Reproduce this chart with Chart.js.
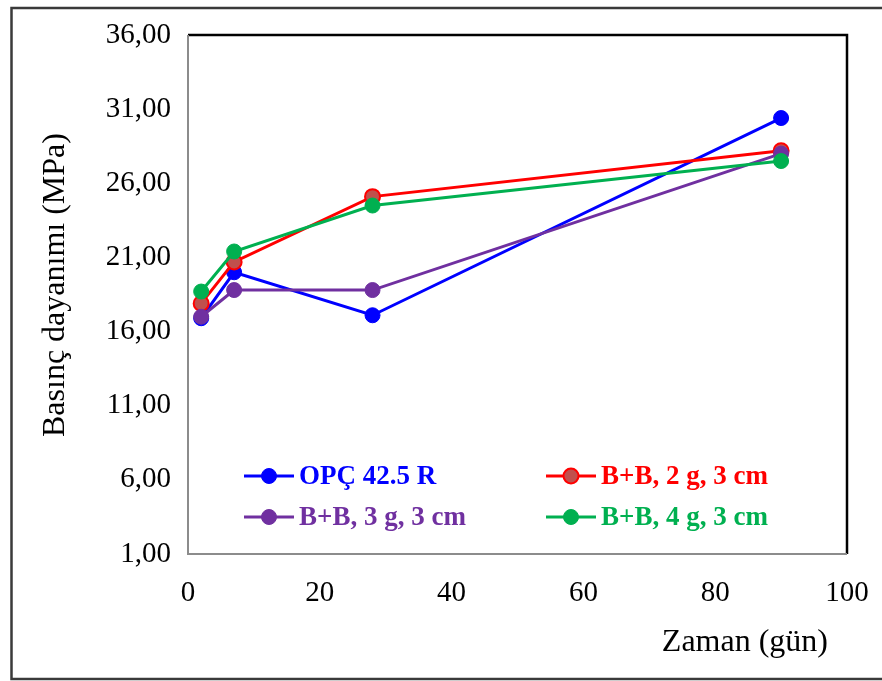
<!DOCTYPE html>
<html>
<head>
<meta charset="utf-8">
<script src="https://cdn.jsdelivr.net/npm/chart.js@4"></script>
<style>
  html, body { margin: 0; padding: 0; background: #fff; }
  #wrap { width: 882px; height: 681px; position: relative; }
</style>
</head>
<body>
<div id="wrap"><canvas id="c" width="882" height="681"></canvas></div>
<script>
// Curing time (days) and compressive strength (MPa) per mix
const days = [2, 7, 28, 90];
const opc = [16.9, 20.0, 17.1, 30.4];
const bb2g = [17.9, 20.7, 25.1, 28.2];
const bb3g = [17.0, 18.8, 18.8, 28.0];
const bb4g = [18.7, 21.4, 24.5, 27.5];

const seriesNames = ['OPÇ 42.5 R', 'B+B, 2 g, 3 cm', 'B+B, 3 g, 3 cm', 'B+B, 4 g, 3 cm'];
const yTicks = [1, 6, 11, 16, 21, 26, 31, 36];
const xTicks = [0, 20, 40, 60, 80, 100];
const xTitle = 'Zaman (gün)';
const yTitle = 'Basınç dayanımı (MPa)';

const SERIF = '"Liberation Serif", "Times New Roman", serif';

function pts(vals) { return days.map((d, i) => ({ x: d, y: vals[i] })); }

const styles = [
  { line: '#0000FF', fill: '#0000FF', text: '#0000FF' },
  { line: '#FF0000', fill: '#C0504D', text: '#FF0000' },
  { line: '#7030A0', fill: '#7030A0', text: '#7030A0' },
  { line: '#00B050', fill: '#00B050', text: '#00B050' }
];
const values = [opc, bb2g, bb3g, bb4g];

const datasets = values.map((v, i) => ({
  label: seriesNames[i],
  data: pts(v),
  borderColor: styles[i].line,
  backgroundColor: styles[i].fill,
  pointBackgroundColor: styles[i].fill,
  pointBorderColor: styles[i].line,
  pointBorderWidth: i === 1 ? 2 : 1,
  pointRadius: 7.5,
  pointHoverRadius: 7.5,
  borderWidth: 3,
  tension: 0,
  order: 3 - i
}));

// Frame, plot-area edges, axis titles and the in-plot legend
const decor = {
  id: 'decor',
  beforeDraw(chart) {
    const ctx = chart.ctx;
    ctx.save();
    ctx.fillStyle = '#fff';
    ctx.fillRect(0, 0, chart.width, chart.height);
    ctx.strokeStyle = '#3a3a3a';
    ctx.lineWidth = 2.5;
    ctx.strokeRect(11.5, 8, 900, 671);
    ctx.restore();
  },
  afterDatasetsDraw(chart) {
    const ctx = chart.ctx;
    const a = chart.chartArea;
    ctx.save();
    // top and right edges
    ctx.strokeStyle = '#000';
    ctx.lineWidth = 2.5;
    ctx.beginPath();
    ctx.moveTo(a.left, a.top);
    ctx.lineTo(a.right, a.top);
    ctx.lineTo(a.right, a.bottom);
    ctx.stroke();
    // left and bottom edges
    ctx.strokeStyle = '#8c8c8c';
    ctx.lineWidth = 2;
    ctx.beginPath();
    ctx.moveTo(a.left, a.top);
    ctx.lineTo(a.left, a.bottom);
    ctx.lineTo(a.right, a.bottom);
    ctx.stroke();

    // axis titles
    ctx.fillStyle = '#000';
    ctx.font = '32px ' + SERIF;
    ctx.textAlign = 'right';
    ctx.textBaseline = 'middle';
    ctx.fillText(xTitle, 828, 643);
    ctx.translate(56, 285);
    ctx.rotate(-Math.PI / 2);
    ctx.textAlign = 'center';
    ctx.fillText(yTitle, 0, 0);
    ctx.restore();

    // legend
    const slots = [
      { x: 244, y: 476 }, { x: 546, y: 476 },
      { x: 244, y: 517 }, { x: 546, y: 517 }
    ];
    ctx.save();
    ctx.font = 'bold 27px ' + SERIF;
    ctx.textBaseline = 'middle';
    ctx.textAlign = 'left';
    chart.data.datasets.forEach((ds, i) => {
      const s = slots[i];
      ctx.strokeStyle = styles[i].line;
      ctx.lineWidth = 3;
      ctx.beginPath();
      ctx.moveTo(s.x, s.y);
      ctx.lineTo(s.x + 50, s.y);
      ctx.stroke();
      ctx.beginPath();
      ctx.arc(s.x + 25, s.y, 7.5, 0, Math.PI * 2);
      ctx.fillStyle = styles[i].fill;
      ctx.fill();
      ctx.lineWidth = i === 1 ? 2 : 1;
      ctx.stroke();
      ctx.fillStyle = styles[i].text;
      ctx.fillText(ds.label, s.x + 55, s.y + 1);
    });
    ctx.restore();
  }
};

new Chart(document.getElementById('c'), {
  type: 'line',
  data: { datasets },
  options: {
    responsive: false,
    animation: false,
    devicePixelRatio: 1,
    layout: { padding: { top: 35, right: 35, left: 0, bottom: 0 } },
    plugins: { legend: { display: false }, tooltip: { enabled: false } },
    scales: {
      x: {
        type: 'linear',
        min: 0, max: 100,
        grid: { display: false },
        border: { display: false },
        afterBuildTicks(s) { s.ticks = xTicks.map(v => ({ value: v })); },
        afterFit(s) { s.height = 127; s.paddingLeft = 0; s.paddingRight = 0; },
        ticks: {
          color: '#000',
          font: { family: SERIF, size: 29 },
          padding: 14,
          maxRotation: 0,
          callback: v => String(v)
        }
      },
      y: {
        type: 'linear',
        min: 1, max: 36,
        grid: { display: false },
        border: { display: false },
        afterBuildTicks(s) { s.ticks = yTicks.map(v => ({ value: v })); },
        afterFit(s) { s.width = 188; s.paddingTop = 0; s.paddingBottom = 0; },
        ticks: {
          color: '#000',
          font: { family: SERIF, size: 29 },
          padding: 9,
          callback: v => Number(v).toFixed(2).replace('.', ',')
        }
      }
    }
  },
  plugins: [decor]
});
</script>
</body>
</html>
